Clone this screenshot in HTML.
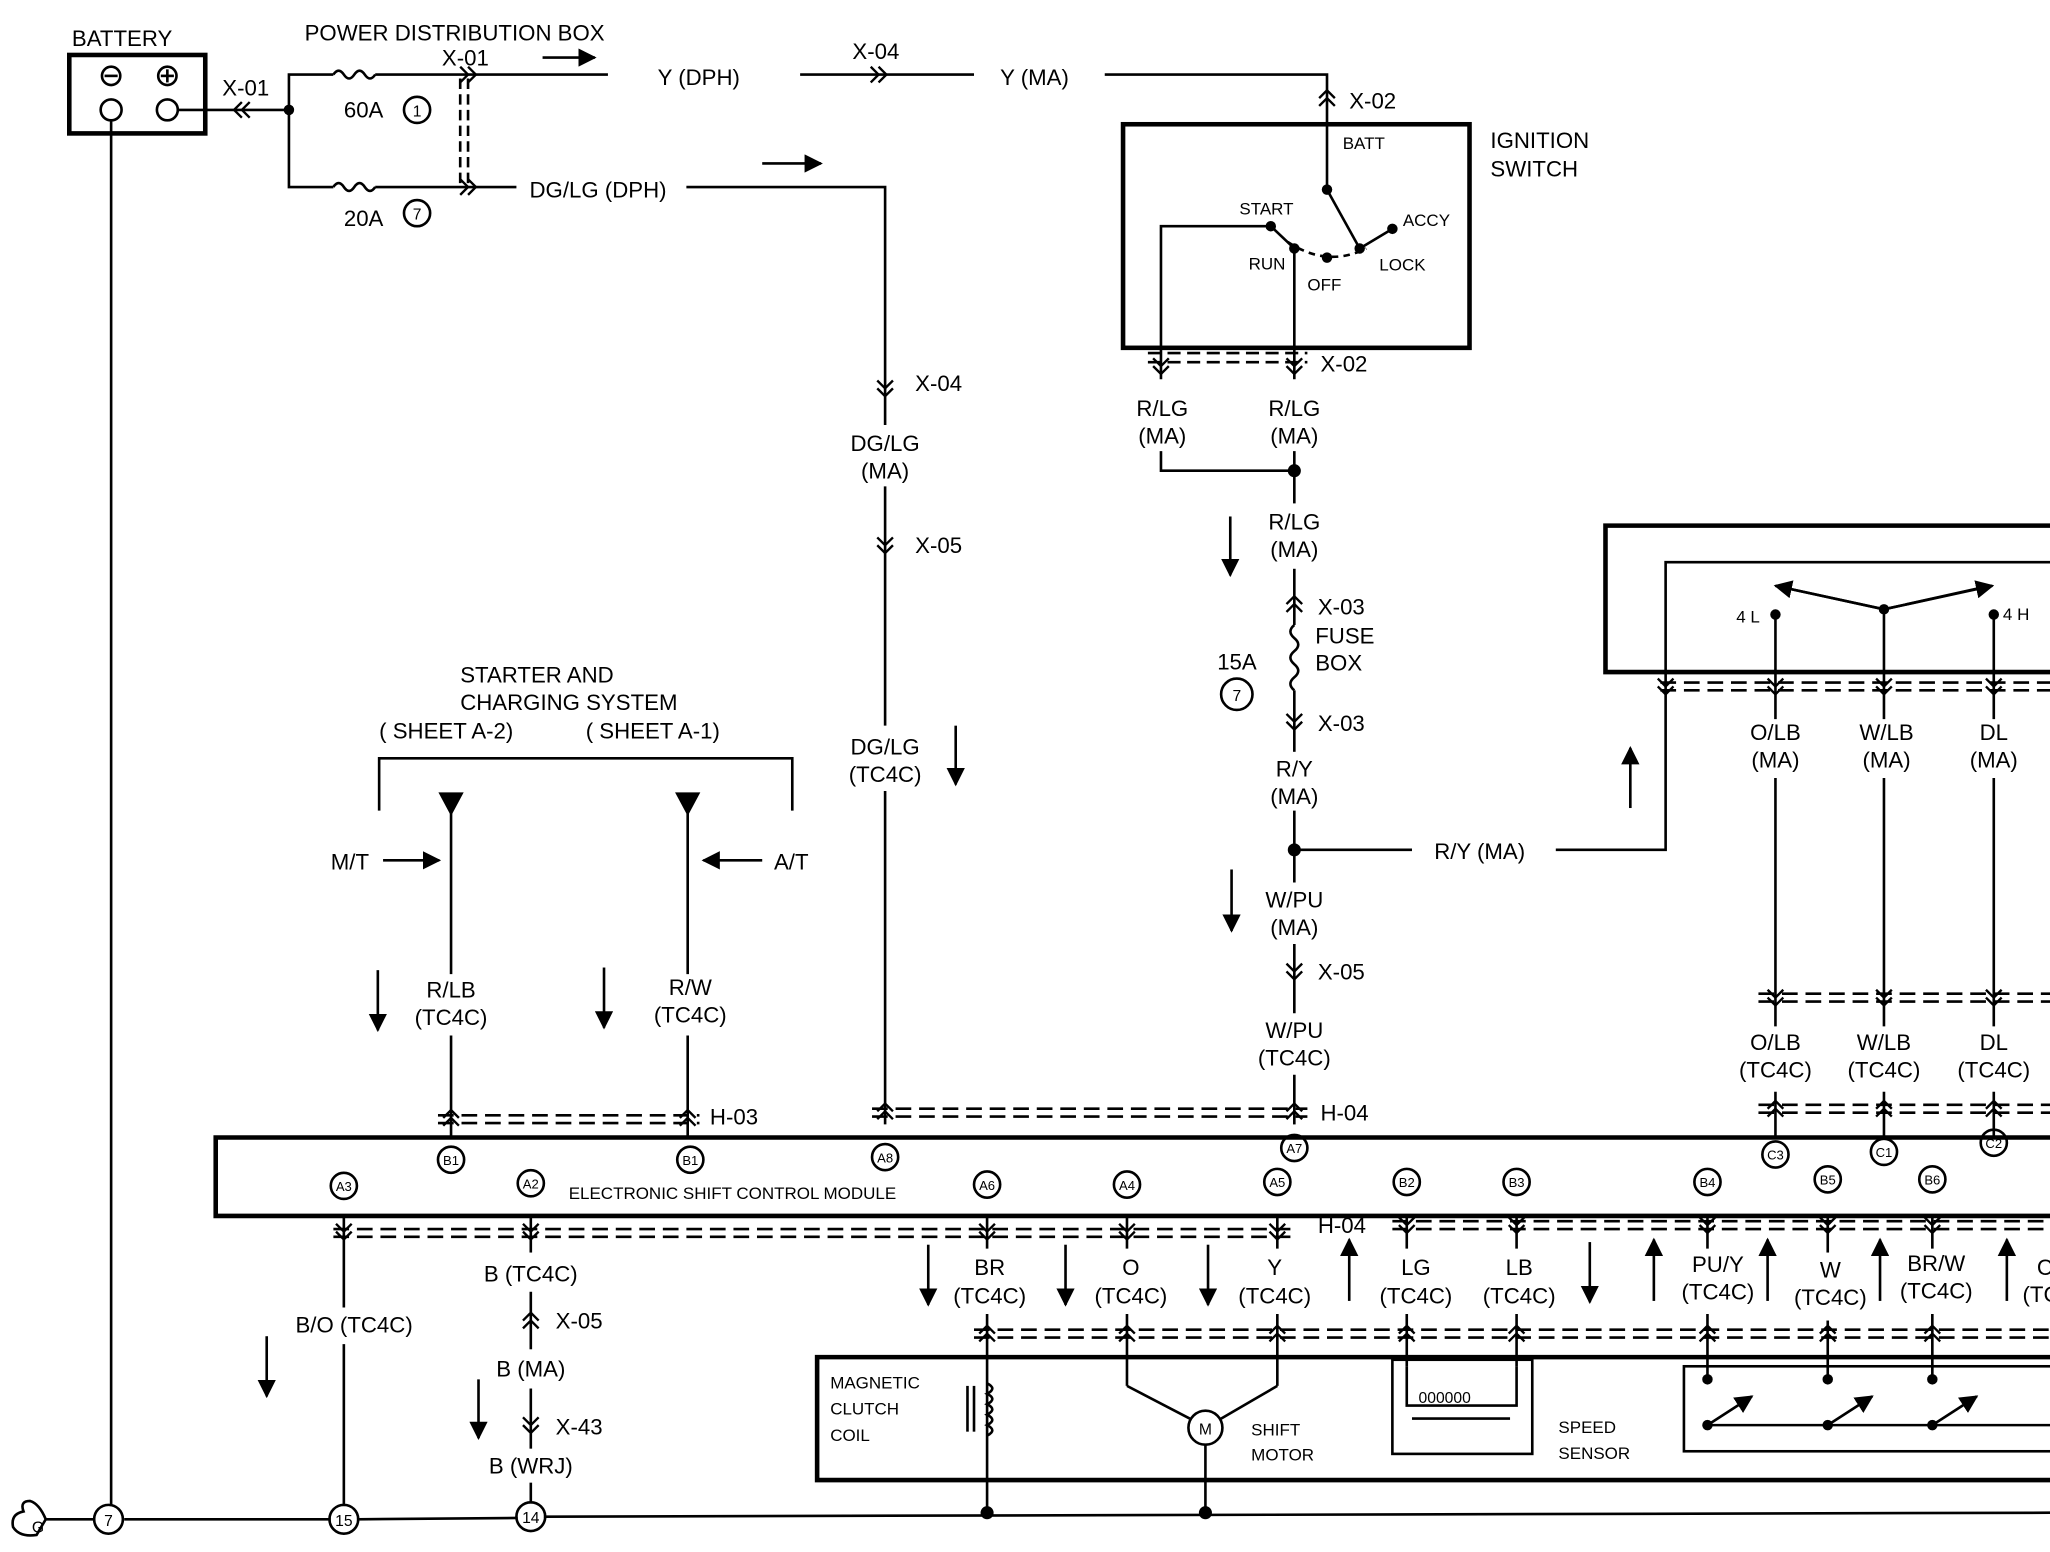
<!DOCTYPE html>
<html><head><meta charset="utf-8"><style>
html,body{margin:0;padding:0;background:#fff;}
svg{display:block;}
text{font-family:"Liberation Sans",Arial,sans-serif;fill:#000;}
</style></head><body>
<svg width="2050" height="1552" viewBox="0 0 1568 1187" xmlns="http://www.w3.org/2000/svg">
<defs>
<path id="cd" d="M-6,-6 L0,0 L6,-6 M-6,0 L0,6 L6,0" fill="none" stroke="#000" stroke-width="1.8"/>
<path id="cu" d="M-6,6 L0,0 L6,6 M-6,0 L0,-6 L6,0" fill="none" stroke="#000" stroke-width="1.8"/>
<path id="cr" d="M-6,-6 L0,0 L-6,6 M0,-6 L6,0 L0,6" fill="none" stroke="#000" stroke-width="1.8"/>
<path id="cl" d="M6,-6 L0,0 L6,6 M0,-6 L-6,0 L0,6" fill="none" stroke="#000" stroke-width="1.8"/>
<marker id="ah" viewBox="0 0 10 10" refX="9" refY="5" markerWidth="7" markerHeight="7" orient="auto"><path d="M0,0 L10,5 L0,10 z" fill="#000"/></marker>
</defs>
<g stroke="#000" stroke-width="2" fill="none">
<!-- battery -->
<rect x="53" y="42" width="104" height="60" stroke-width="3.5"/>
<circle cx="85" cy="58" r="7"/><line x1="80" y1="58" x2="90" y2="58"/>
<circle cx="128" cy="58" r="7"/><line x1="123" y1="58" x2="133" y2="58"/><line x1="128" y1="53" x2="128" y2="63"/>
<circle cx="85" cy="84" r="8"/><circle cx="128" cy="84" r="8"/>
<line x1="136" y1="84" x2="221" y2="84"/>
<line x1="85" y1="92" x2="85" y2="1152"/>
<!-- fuses -->
<polyline points="221,84 221,57 255,57"/>
<path d="M255,57 q4,-6 8,0 q4,6 8,0 q4,-6 8,0 q4,6 8,0"/>
<line x1="287" y1="57" x2="465" y2="57"/>
<polyline points="221,84 221,143 255,143"/>
<path d="M255,143 q4,-6 8,0 q4,6 8,0 q4,-6 8,0 q4,6 8,0"/>
<line x1="287" y1="143" x2="395" y2="143"/>
<line x1="352" y1="60" x2="352" y2="140" stroke-dasharray="8,4"/>
<line x1="358" y1="60" x2="358" y2="140" stroke-dasharray="8,4"/>
<circle cx="319" cy="84" r="10"/><circle cx="319" cy="163" r="10"/>
<line x1="415" y1="44" x2="455" y2="44" marker-end="url(#ah)"/>
<line x1="583" y1="125" x2="628" y2="125" marker-end="url(#ah)"/>
<line x1="612" y1="57" x2="745" y2="57"/>
<polyline points="845,57 1015,57 1015,95"/>
<!-- DG/LG -->
<polyline points="525,143 677,143 677,325"/>
<line x1="677" y1="372" x2="677" y2="555"/>
<line x1="677" y1="605" x2="677" y2="860"/>
<line x1="731" y1="555" x2="731" y2="600" marker-end="url(#ah)"/>
<!-- ignition switch -->
<rect x="859" y="95" width="265" height="171" stroke-width="3.5"/>
<line x1="1015" y1="95" x2="1015" y2="145"/>
<line x1="1015" y1="145" x2="1040" y2="190"/>
<line x1="1040" y1="190" x2="1065" y2="175"/>
<path d="M985,185 Q1015,205 1045,190" stroke-dasharray="5,4"/>
<line x1="972" y1="173" x2="990" y2="190"/>
<polyline points="972,173 888,173 888,290"/>
<line x1="990" y1="190" x2="990" y2="290"/>
<line x1="878" y1="270" x2="1000" y2="270" stroke-dasharray="10,5"/>
<line x1="878" y1="277" x2="1000" y2="277" stroke-dasharray="10,5"/>
<polyline points="888,345 888,360 990,360"/>
<line x1="990" y1="345" x2="990" y2="385"/>
<line x1="990" y1="435" x2="990" y2="478"/>
<path d="M990,478 q-6,5 0,10 q6,5 0,10 q-6,5 0,10 q6,5 0,10 q-6,5 0,10"/>
<line x1="990" y1="528" x2="990" y2="575"/>
<line x1="941" y1="395" x2="941" y2="440" marker-end="url(#ah)"/>
<circle cx="946" cy="531" r="12"/>
<line x1="990" y1="620" x2="990" y2="675"/>
<line x1="990" y1="650" x2="1080" y2="650"/>
<polyline points="1190,650 1274,650 1274,430 1568,430"/>
<line x1="1247" y1="618" x2="1247" y2="572" marker-end="url(#ah)"/>
<line x1="942" y1="665" x2="942" y2="712" marker-end="url(#ah)"/>
<line x1="990" y1="722" x2="990" y2="775"/>
<line x1="990" y1="822" x2="990" y2="860"/>
<!-- right box -->
<polyline points="1568,402 1228,402 1228,514 1568,514" stroke-width="3.5"/>
<line x1="1358" y1="470" x2="1358" y2="550"/>
<line x1="1441" y1="466" x2="1441" y2="550"/>
<line x1="1525" y1="470" x2="1525" y2="550"/>
<polyline points="1358,448 1441,466 1522,448"/>
<line x1="1441" y1="466" x2="1358" y2="448" marker-end="url(#ah)"/>
<line x1="1441" y1="466" x2="1524" y2="448" marker-end="url(#ah)"/>
<line x1="1270" y1="522" x2="1568" y2="522" stroke-dasharray="12,6"/>
<line x1="1270" y1="528" x2="1568" y2="528" stroke-dasharray="12,6"/>
<line x1="1358" y1="595" x2="1358" y2="785"/>
<line x1="1441" y1="595" x2="1441" y2="785"/>
<line x1="1525" y1="595" x2="1525" y2="785"/>
<line x1="1345" y1="760" x2="1568" y2="760" stroke-dasharray="12,6"/>
<line x1="1345" y1="766" x2="1568" y2="766" stroke-dasharray="12,6"/>
<line x1="1358" y1="835" x2="1358" y2="870"/>
<line x1="1441" y1="835" x2="1441" y2="870"/>
<line x1="1525" y1="835" x2="1525" y2="870"/>
<line x1="1345" y1="845" x2="1568" y2="845" stroke-dasharray="12,6"/>
<line x1="1345" y1="851" x2="1568" y2="851" stroke-dasharray="12,6"/>
<!-- starter -->
<polyline points="290,620 290,580 606,580 606,620"/>
<path d="M337,607 L353,607 L345,622 z" fill="#000"/>
<path d="M518,607 L534,607 L526,622 z" fill="#000"/>
<line x1="345" y1="622" x2="345" y2="745"/>
<line x1="526" y1="622" x2="526" y2="745"/>
<line x1="293" y1="658" x2="336" y2="658" marker-end="url(#ah)"/>
<line x1="583" y1="658" x2="538" y2="658" marker-end="url(#ah)"/>
<line x1="289" y1="742" x2="289" y2="788" marker-end="url(#ah)"/>
<line x1="462" y1="740" x2="462" y2="786" marker-end="url(#ah)"/>
<line x1="345" y1="792" x2="345" y2="870"/>
<line x1="526" y1="792" x2="526" y2="870"/>
<line x1="335" y1="853" x2="535" y2="853" stroke-dasharray="12,6"/>
<line x1="335" y1="859" x2="535" y2="859" stroke-dasharray="12,6"/>
<line x1="667" y1="848" x2="1000" y2="848" stroke-dasharray="12,6"/>
<line x1="667" y1="854" x2="1000" y2="854" stroke-dasharray="12,6"/>
<!-- module -->
<polyline points="1568,870 165,870 165,930 1568,930" stroke-width="3.5"/>
<line x1="255" y1="940" x2="990" y2="940" stroke-dasharray="12,6"/>
<line x1="255" y1="946" x2="990" y2="946" stroke-dasharray="12,6"/>
<line x1="1065" y1="934" x2="1568" y2="934" stroke-dasharray="12,6"/>
<line x1="1065" y1="940" x2="1568" y2="940" stroke-dasharray="12,6"/>
<line x1="263" y1="930" x2="263" y2="1000"/>
<line x1="263" y1="1028" x2="263" y2="1152"/>
<line x1="406" y1="930" x2="406" y2="958"/>
<line x1="406" y1="988" x2="406" y2="1032"/>
<line x1="406" y1="1062" x2="406" y2="1108"/>
<line x1="406" y1="1134" x2="406" y2="1150"/>
<line x1="204" y1="1022" x2="204" y2="1068" marker-end="url(#ah)"/>
<line x1="366" y1="1055" x2="366" y2="1100" marker-end="url(#ah)"/>
<g>
<line x1="755" y1="930" x2="755" y2="955"/><line x1="862" y1="930" x2="862" y2="955"/>
<line x1="977" y1="930" x2="977" y2="955"/><line x1="1076" y1="930" x2="1076" y2="955"/>
<line x1="1160" y1="930" x2="1160" y2="955"/><line x1="1306" y1="930" x2="1306" y2="955"/>
<line x1="1398" y1="930" x2="1398" y2="958"/><line x1="1478" y1="930" x2="1478" y2="955"/>
<line x1="755" y1="1005" x2="755" y2="1157"/><line x1="862" y1="1005" x2="862" y2="1060"/>
<line x1="977" y1="1005" x2="977" y2="1060"/><line x1="1076" y1="1005" x2="1076" y2="1045"/>
<line x1="1160" y1="1005" x2="1160" y2="1045"/><line x1="1306" y1="1005" x2="1306" y2="1055"/>
<line x1="1398" y1="1010" x2="1398" y2="1055"/><line x1="1478" y1="1005" x2="1478" y2="1055"/>
</g>
<line x1="710" y1="952" x2="710" y2="998" marker-end="url(#ah)"/>
<line x1="815" y1="952" x2="815" y2="998" marker-end="url(#ah)"/>
<line x1="924" y1="952" x2="924" y2="998" marker-end="url(#ah)"/>
<line x1="1032" y1="995" x2="1032" y2="948" marker-end="url(#ah)"/>
<line x1="1216" y1="950" x2="1216" y2="996" marker-end="url(#ah)"/>
<line x1="1265" y1="995" x2="1265" y2="948" marker-end="url(#ah)"/>
<line x1="1352" y1="995" x2="1352" y2="948" marker-end="url(#ah)"/>
<line x1="1438" y1="995" x2="1438" y2="948" marker-end="url(#ah)"/>
<line x1="1535" y1="995" x2="1535" y2="948" marker-end="url(#ah)"/>
<line x1="745" y1="1017" x2="1568" y2="1017" stroke-dasharray="12,6"/>
<line x1="745" y1="1023" x2="1568" y2="1023" stroke-dasharray="12,6"/>
<!-- lower box -->
<polyline points="1568,1038 625,1038 625,1132 1568,1132" stroke-width="3.5"/>
<path d="M755,1058 q8,4 0,8 q8,4 0,8 q8,4 0,8 q8,4 0,8 q8,4 0,8"/>
<line x1="740" y1="1060" x2="740" y2="1095"/><line x1="745" y1="1060" x2="745" y2="1095"/>
<polyline points="862,1060 910,1085"/><polyline points="977,1060 934,1085"/>
<circle cx="922" cy="1092" r="13"/>
<line x1="922" y1="1105" x2="922" y2="1157"/>
<rect x="1065" y="1040" width="107" height="72"/>
<polyline points="1076,1045 1076,1075 1160,1075 1160,1045"/>
<line x1="1080" y1="1085" x2="1155" y2="1085"/>
<rect x="1288" y="1045" width="290" height="65"/>
<line x1="1306" y1="1090" x2="1568" y2="1090"/>
<line x1="1306" y1="1090" x2="1340" y2="1068" marker-end="url(#ah)"/>
<line x1="1398" y1="1090" x2="1432" y2="1068" marker-end="url(#ah)"/>
<line x1="1478" y1="1090" x2="1512" y2="1068" marker-end="url(#ah)"/>
<!-- ground line -->
<line x1="35" y1="1162" x2="73" y2="1162"/>
<line x1="95" y1="1162" x2="253" y2="1162"/>
<line x1="273" y1="1162" x2="396" y2="1161"/>
<line x1="416" y1="1160" x2="1568" y2="1157"/>
<path d="M35,1162 q-5,-12 -12,-14 q-8,0 -5,8 q-10,2 -8,12 q5,8 18,6 z"/>
<circle cx="83" cy="1162" r="11"/><circle cx="263" cy="1162" r="11"/><circle cx="406" cy="1160" r="11"/>
<!-- module pin circles -->
<circle cx="263" cy="907" r="10"/><circle cx="345" cy="887" r="10"/><circle cx="406" cy="905" r="10"/>
<circle cx="528" cy="887" r="10"/><circle cx="677" cy="885" r="10"/><circle cx="755" cy="906" r="10"/>
<circle cx="862" cy="906" r="10"/><circle cx="977" cy="904" r="10"/><circle cx="990" cy="878" r="10"/>
<circle cx="1076" cy="904" r="10"/><circle cx="1160" cy="904" r="10"/><circle cx="1306" cy="904" r="10"/>
<circle cx="1358" cy="883" r="10"/><circle cx="1398" cy="902" r="10"/><circle cx="1441" cy="881" r="10"/>
<circle cx="1478" cy="902" r="10"/><circle cx="1525" cy="874" r="10"/>
</g>
<g fill="#000">
<circle cx="221" cy="84" r="4"/><circle cx="990" cy="360" r="5"/><circle cx="990" cy="650" r="5"/>
<circle cx="755" cy="1157" r="5"/><circle cx="922" cy="1157" r="5"/>
<circle cx="1015" cy="145" r="4"/><circle cx="972" cy="173" r="4"/><circle cx="1065" cy="175" r="4"/>
<circle cx="990" cy="190" r="4"/><circle cx="1015" cy="197" r="4"/><circle cx="1040" cy="190" r="4"/>
<circle cx="1358" cy="470" r="4"/><circle cx="1441" cy="466" r="4"/><circle cx="1525" cy="470" r="4"/>
<circle cx="1306" cy="1055" r="4"/><circle cx="1398" cy="1055" r="4"/><circle cx="1478" cy="1055" r="4"/>
<circle cx="1306" cy="1090" r="4"/><circle cx="1398" cy="1090" r="4"/><circle cx="1478" cy="1090" r="4"/>
</g>
<!-- chevrons -->
<use href="#cl" x="185" y="84"/><use href="#cr" x="358" y="57"/><use href="#cr" x="358" y="143"/>
<use href="#cr" x="672" y="57"/><use href="#cu" x="1015" y="75"/>
<use href="#cd" x="677" y="297"/><use href="#cd" x="677" y="417"/>
<use href="#cd" x="888" y="280"/><use href="#cd" x="990" y="280"/>
<use href="#cu" x="990" y="462"/><use href="#cd" x="990" y="552"/><use href="#cd" x="990" y="743"/>
<use href="#cu" x="345" y="855"/><use href="#cu" x="526" y="855"/><use href="#cu" x="677" y="850"/><use href="#cu" x="990" y="850"/>
<use href="#cd" x="1274" y="525"/><use href="#cd" x="1358" y="525"/><use href="#cd" x="1441" y="525"/><use href="#cd" x="1525" y="525"/>
<use href="#cd" x="1358" y="763"/><use href="#cd" x="1441" y="763"/><use href="#cd" x="1525" y="763"/>
<use href="#cu" x="1358" y="848"/><use href="#cu" x="1441" y="848"/><use href="#cu" x="1525" y="848"/>
<use href="#cd" x="263" y="942"/><use href="#cd" x="406" y="942"/><use href="#cd" x="755" y="942"/><use href="#cd" x="862" y="942"/><use href="#cd" x="977" y="942"/>
<use href="#cd" x="1076" y="937"/><use href="#cd" x="1160" y="937"/><use href="#cd" x="1306" y="937"/><use href="#cd" x="1398" y="937"/><use href="#cd" x="1478" y="937"/>
<use href="#cu" x="406" y="1010"/><use href="#cd" x="406" y="1090"/>
<use href="#cu" x="755" y="1020"/><use href="#cu" x="862" y="1020"/><use href="#cu" x="977" y="1020"/><use href="#cu" x="1076" y="1020"/><use href="#cu" x="1160" y="1020"/>
<use href="#cu" x="1306" y="1020"/><use href="#cu" x="1398" y="1020"/><use href="#cu" x="1478" y="1020"/>
<!-- text -->
<g font-size="17">
<text x="55" y="35">BATTERY</text>
<text x="233" y="31">POWER DISTRIBUTION BOX</text>
<text x="170" y="73">X-01</text><text x="338" y="50">X-01</text>
<text x="263" y="90">60A</text><text x="263" y="173">20A</text>
<text x="503" y="65">Y (DPH)</text><text x="652" y="45">X-04</text><text x="765" y="65">Y (MA)</text>
<text x="405" y="151">DG/LG (DPH)</text>
<text x="1032" y="83">X-02</text>
<text x="1140" y="113">IGNITION</text><text x="1140" y="135">SWITCH</text>
<text x="1010" y="284">X-02</text>
<text x="700" y="299">X-04</text><text x="700" y="423">X-05</text>
<text x="677" y="345" text-anchor="middle">DG/LG</text><text x="677" y="366" text-anchor="middle">(MA)</text>
<text x="677" y="577" text-anchor="middle">DG/LG</text><text x="677" y="598" text-anchor="middle">(TC4C)</text>
<text x="889" y="318" text-anchor="middle">R/LG</text><text x="889" y="339" text-anchor="middle">(MA)</text>
<text x="990" y="318" text-anchor="middle">R/LG</text><text x="990" y="339" text-anchor="middle">(MA)</text>
<text x="990" y="405" text-anchor="middle">R/LG</text><text x="990" y="426" text-anchor="middle">(MA)</text>
<text x="1008" y="470">X-03</text><text x="1006" y="492">FUSE</text><text x="1006" y="513">BOX</text>
<text x="931" y="512">15A</text><text x="1008" y="559">X-03</text>
<text x="990" y="594" text-anchor="middle">R/Y</text><text x="990" y="615" text-anchor="middle">(MA)</text>
<text x="1097" y="657">R/Y (MA)</text>
<text x="990" y="694" text-anchor="middle">W/PU</text><text x="990" y="715" text-anchor="middle">(MA)</text>
<text x="1008" y="749">X-05</text>
<text x="990" y="794" text-anchor="middle">W/PU</text><text x="990" y="815" text-anchor="middle">(TC4C)</text>
<text x="1010" y="857">H-04</text><text x="543" y="860">H-03</text>
<text x="352" y="522">STARTER AND</text><text x="352" y="543">CHARGING SYSTEM</text>
<text x="290" y="565">( SHEET  A-2)</text><text x="448" y="565">( SHEET  A-1)</text>
<text x="253" y="665">M/T</text><text x="592" y="665">A/T</text>
<text x="345" y="763" text-anchor="middle">R/LB</text><text x="345" y="784" text-anchor="middle">(TC4C)</text>
<text x="528" y="761" text-anchor="middle">R/W</text><text x="528" y="782" text-anchor="middle">(TC4C)</text>
<text x="1358" y="566" text-anchor="middle">O/LB</text><text x="1358" y="587" text-anchor="middle">(MA)</text>
<text x="1443" y="566" text-anchor="middle">W/LB</text><text x="1443" y="587" text-anchor="middle">(MA)</text>
<text x="1525" y="566" text-anchor="middle">DL</text><text x="1525" y="587" text-anchor="middle">(MA)</text>
<text x="1358" y="803" text-anchor="middle">O/LB</text><text x="1358" y="824" text-anchor="middle">(TC4C)</text>
<text x="1441" y="803" text-anchor="middle">W/LB</text><text x="1441" y="824" text-anchor="middle">(TC4C)</text>
<text x="1525" y="803" text-anchor="middle">DL</text><text x="1525" y="824" text-anchor="middle">(TC4C)</text>
<text x="1008" y="943">H-04</text>
<text x="226" y="1019">B/O (TC4C)</text>
<text x="406" y="980" text-anchor="middle">B (TC4C)</text><text x="425" y="1016">X-05</text>
<text x="406" y="1053" text-anchor="middle">B (MA)</text><text x="425" y="1097">X-43</text>
<text x="406" y="1127" text-anchor="middle">B (WRJ)</text>
<text x="757" y="975" text-anchor="middle">BR</text><text x="757" y="997" text-anchor="middle">(TC4C)</text>
<text x="865" y="975" text-anchor="middle">O</text><text x="865" y="997" text-anchor="middle">(TC4C)</text>
<text x="975" y="975" text-anchor="middle">Y</text><text x="975" y="997" text-anchor="middle">(TC4C)</text>
<text x="1083" y="975" text-anchor="middle">LG</text><text x="1083" y="997" text-anchor="middle">(TC4C)</text>
<text x="1162" y="975" text-anchor="middle">LB</text><text x="1162" y="997" text-anchor="middle">(TC4C)</text>
<text x="1314" y="973" text-anchor="middle">PU/Y</text><text x="1314" y="994" text-anchor="middle">(TC4C)</text>
<text x="1400" y="977" text-anchor="middle">W</text><text x="1400" y="998" text-anchor="middle">(TC4C)</text>
<text x="1481" y="972" text-anchor="middle">BR/W</text><text x="1481" y="993" text-anchor="middle">(TC4C)</text>
<text x="1558" y="975">C</text><text x="1547" y="996">(TC</text>
</g>
<g font-size="13">
<text x="1027" y="114">BATT</text><text x="948" y="164">START</text><text x="1073" y="173">ACCY</text>
<text x="955" y="206">RUN</text><text x="1000" y="222">OFF</text><text x="1055" y="207">LOCK</text>
<text x="1328" y="476">4 L</text><text x="1532" y="474">4 H</text>
<text x="435" y="917">ELECTRONIC SHIFT CONTROL MODULE</text>
<text x="635" y="1062">MAGNETIC</text><text x="635" y="1082">CLUTCH</text><text x="635" y="1102">COIL</text>
<text x="957" y="1098">SHIFT</text><text x="957" y="1117">MOTOR</text>
<text x="1192" y="1096">SPEED</text><text x="1192" y="1116">SENSOR</text>
<text x="1085" y="1073" font-size="12">000000</text>
</g>
<g font-size="12" text-anchor="middle">
<text x="319" y="89">1</text><text x="319" y="168">7</text><text x="946" y="536">7</text><text x="922" y="1097">M</text>
<text x="83" y="1167">7</text><text x="263" y="1167">15</text><text x="406" y="1165">14</text><text x="29" y="1172">G</text>
</g>
<g font-size="10" text-anchor="middle">
<text x="263" y="911">A3</text><text x="345" y="891">B1</text><text x="406" y="909">A2</text><text x="528" y="891">B1</text>
<text x="677" y="889">A8</text><text x="755" y="910">A6</text><text x="862" y="910">A4</text><text x="977" y="908">A5</text>
<text x="990" y="882">A7</text><text x="1076" y="908">B2</text><text x="1160" y="908">B3</text><text x="1306" y="908">B4</text>
<text x="1358" y="887">C3</text><text x="1398" y="906">B5</text><text x="1441" y="885">C1</text><text x="1478" y="906">B6</text><text x="1525" y="878">C2</text>
</g>
</svg>
</body></html>
